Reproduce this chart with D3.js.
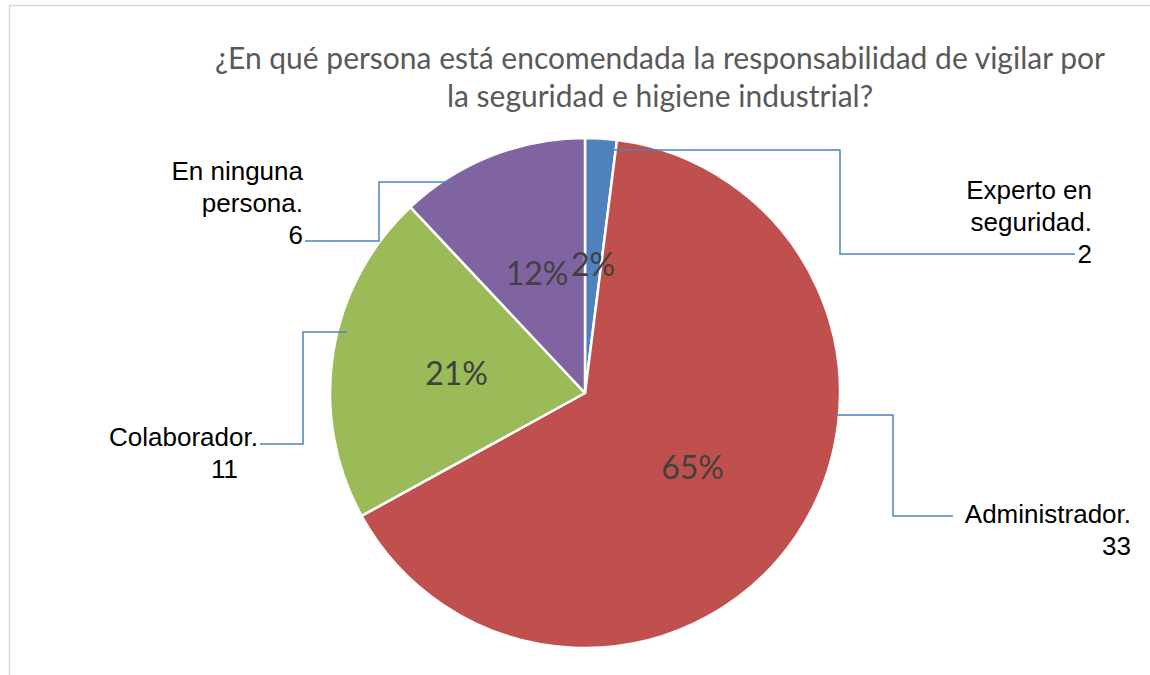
<!DOCTYPE html>
<html>
<head>
<meta charset="utf-8">
<script src="https://cdn.jsdelivr.net/npm/d3@7"></script>
<style>
  body { margin: 0; background: #fff; }
  svg { display: block; }
</style>
</head>
<body>
<svg width="1150" height="675"></svg>
<script>
// data
var categories = ['Experto en seguridad.', 'Administrador.', 'Colaborador.', 'En ninguna persona.'];
var counts = [2, 33, 11, 6];
var percents = [2, 65, 21, 12];
var labelWraps = [['Experto en', 'seguridad.'], ['Administrador.'], ['Colaborador.'], ['En ninguna', 'persona.']];
var colors = ['#4F81BD', '#C0504D', '#9BBB59', '#8064A2'];
var titleLines = ['¿En qué persona está encomendada la responsabilidad de vigilar por', 'la seguridad e higiene industrial?'];

var svg = d3.select('svg');

// chart frame
svg.append('rect')
    .attr('x', 9.5)
    .attr('y', 5.5)
    .attr('width', 1200)
    .attr('height', 700)
    .attr('fill', 'none')
    .attr('stroke', '#d9d9d9')
    .attr('stroke-width', 1.5);

// title, sized to the width it takes in the picture
var title = svg.append('text')
    .attr('text-anchor', 'middle')
    .attr('fill', '#595959')
    .style('font-family', 'Lato, "Open Sans", sans-serif')
    .style('font-size', '100px');

title.selectAll('tspan')
    .data(titleLines)
    .enter()
    .append('tspan')
    .attr('x', 660)
    .attr('y', function(d, i){
        return 57 + i * 38
    })
    .attr('dominant-baseline', 'central')
    .text(function(d){
        return d
    });

var w = title.select('tspan').node().getComputedTextLength();
title.style('font-size', (100 * 890 / w) + 'px');

// pie
var cx = 585, cy = 393, R = 255;

var rows = categories.map(function(c, i){
    return {name: c, count: counts[i], pct: percents[i], color: colors[i], wrap: labelWraps[i]};
});

var pie = d3.pie()
    .sort(null)
    .value(function(d){
        return d.pct
    });

var arc = d3.arc().innerRadius(0).outerRadius(R);
var labelArc = d3.arc().innerRadius(130).outerRadius(130);

var g = svg.append('g').attr('transform', 'translate(' + cx + ',' + cy + ')');
var slices = pie(rows);

g.selectAll('path')
    .data(slices)
    .enter()
    .append('path')
    .attr('d', arc)
    .attr('fill', function(d){
        return d.data.color
    })
    .attr('stroke', '#fff')
    .attr('stroke-width', 2.5)
    .attr('stroke-linejoin', 'round');

g.selectAll('text.pct')
    .data(slices)
    .enter()
    .append('text')
    .attr('class', 'pct')
    .attr('transform', function(d){
        return 'translate(' + labelArc.centroid(d) + ')'
    })
    .attr('text-anchor', 'middle')
    .attr('dominant-baseline', 'central')
    .attr('fill', '#404040')
    .style('font-family', 'Lato, "Open Sans", sans-serif')
    .style('font-size', '32px')
    .text(function(d){
        return d.data.pct + '%'
    });

// outside labels: where each one sits and how its leader line runs
var labelLayout = [
    {anchor: 'end', xs: [1092, 1092, 1092], y: 190, leader: [[605, 150], [840, 150], [840, 254], [1075, 254]]},
    {anchor: 'end', xs: [1131, 1131], y: 514, leader: [[835, 415], [893, 415], [893, 516], [953, 516]]},
    {anchor: 'start', xs: [109, 211], y: 437, leader: [[347, 332], [303, 332], [303, 444], [260, 444]]},
    {anchor: 'end', xs: [303, 303, 303], y: 171, leader: [[452, 182], [379, 182], [379, 241], [305, 241]]}
];

var line = d3.line();

svg.selectAll('path.leader')
    .data(labelLayout)
    .enter()
    .append('path')
    .attr('class', 'leader')
    .attr('d', function(d){
        return line(d.leader)
    })
    .attr('fill', 'none')
    .attr('stroke', '#4F81BD')
    .attr('stroke-width', 1.5);

rows.forEach(function(r, i){
    var lay = labelLayout[i];
    var lines = r.wrap.concat([String(r.count)]);
    var t = svg.append('text')
        .attr('fill', '#000')
        .style('font-family', '"Liberation Sans", Arial, sans-serif')
        .style('font-size', '26px');
    t.selectAll('tspan')
        .data(lines)
        .enter()
        .append('tspan')
        .attr('x', function(d, j){
            return lay.xs[j]
        })
        .attr('y', function(d, j){
            return lay.y + j * 32
        })
        .attr('text-anchor', lay.anchor)
        .attr('dominant-baseline', 'central')
        .text(function(d){
            return d
        });
});
</script>
</body>
</html>
